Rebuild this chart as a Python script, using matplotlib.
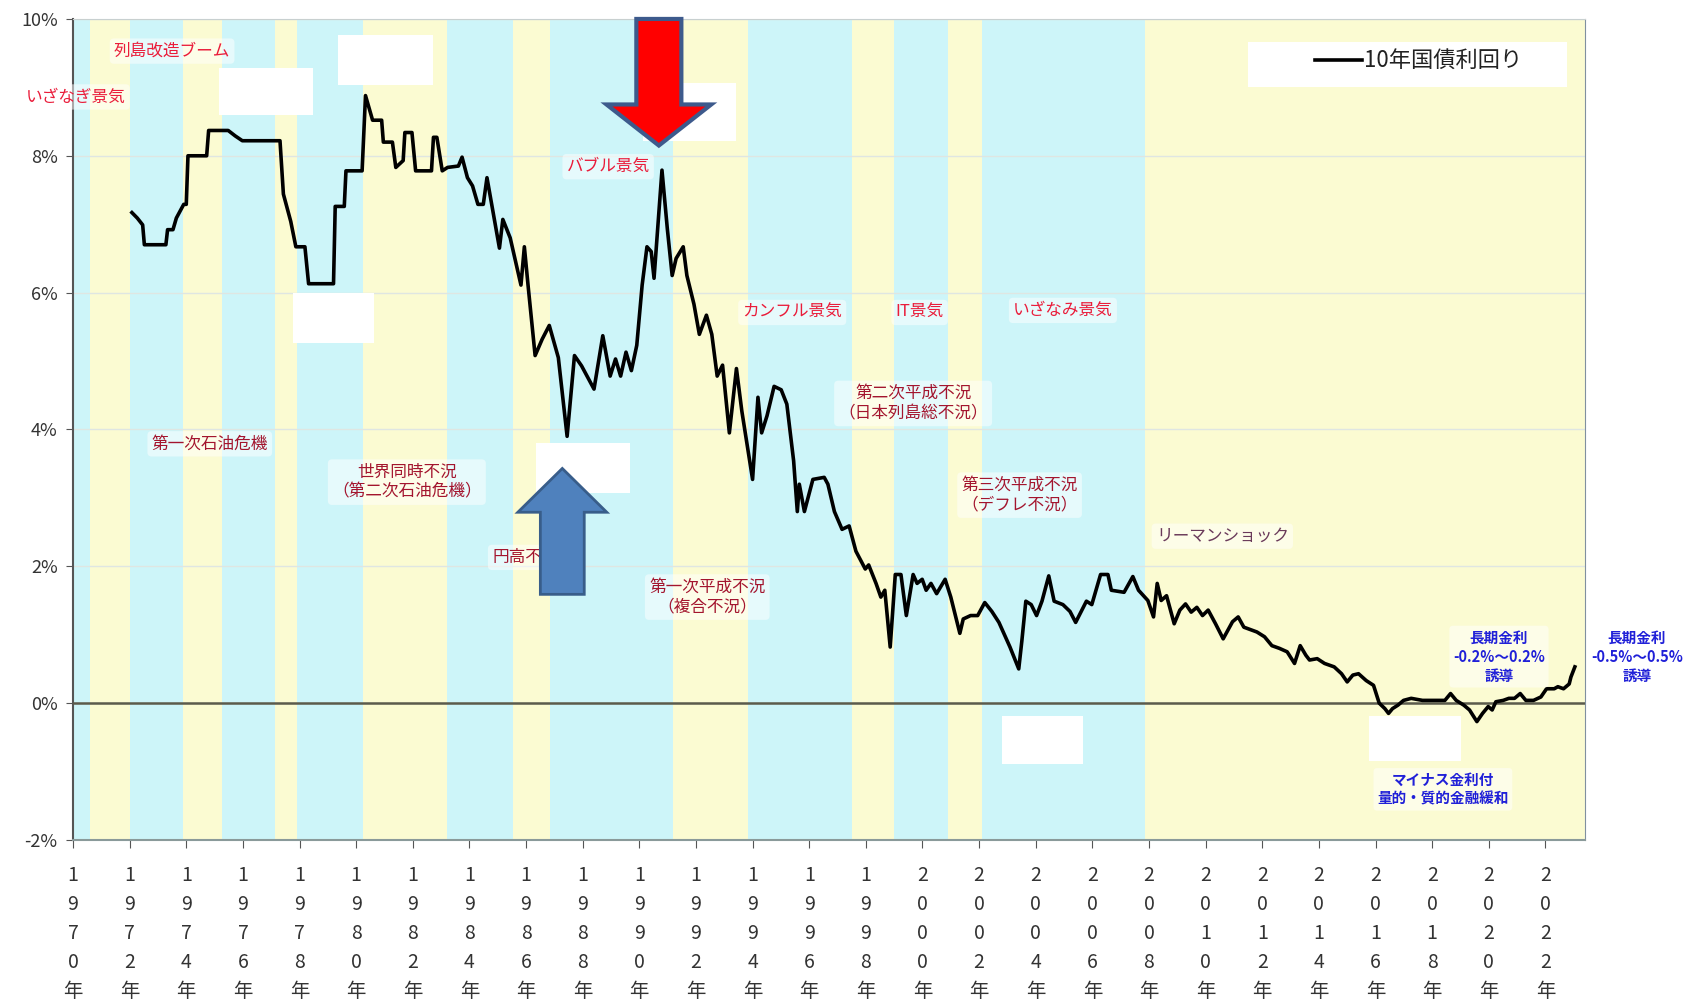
import matplotlib.pyplot as plt
from matplotlib.patches import Rectangle, FancyArrow

plt.rcParams['font.family'] = ['Noto Sans CJK JP', 'DejaVu Sans']

# 10-year JGB yield (%)
years = [
    1972.08, 1972.27, 1972.46, 1972.52, 1973.28, 1973.34, 1973.53, 1973.65, 1973.91, 1974.00,
    1974.06, 1974.72, 1974.79, 1975.48, 1975.73, 1975.98, 1977.31, 1977.43, 1977.69, 1977.87,
    1978.19, 1978.32, 1979.20, 1979.26, 1979.58, 1979.64, 1980.21, 1980.33, 1980.58, 1980.90,
    1980.96, 1981.28, 1981.40, 1981.66, 1981.72, 1981.97, 1982.10, 1982.66, 1982.73, 1982.85,
    1983.04, 1983.23, 1983.61, 1983.74, 1983.93, 1984.11, 1984.30, 1984.49, 1984.62, 1985.06,
    1985.18, 1985.44, 1985.82, 1985.94, 1986.07, 1986.32, 1986.57, 1986.82, 1987.14, 1987.45,
    1987.71, 1987.96, 1988.40, 1988.71, 1988.97, 1989.16, 1989.34, 1989.53, 1989.72, 1989.91,
    1990.10, 1990.27, 1990.42, 1990.52, 1990.80, 1990.99, 1991.16, 1991.30, 1991.55, 1991.68,
    1991.93, 1992.12, 1992.37, 1992.56, 1992.75, 1992.94, 1993.18, 1993.43, 1993.62, 1994.00,
    1994.19, 1994.32, 1994.51, 1994.76, 1995.01, 1995.21, 1995.45, 1995.58, 1995.65, 1995.83,
    1996.13, 1996.53, 1996.66, 1996.89, 1997.16, 1997.41, 1997.65, 1997.98, 1998.10, 1998.36,
    1998.53, 1998.67, 1998.86, 1999.04, 1999.24, 1999.43, 1999.67, 1999.81, 1999.99, 2000.13,
    2000.30, 2000.50, 2000.80, 2001.00, 2001.32, 2001.44, 2001.70, 2001.95, 2002.20, 2002.45,
    2002.70, 2003.09, 2003.40, 2003.51, 2003.65, 2003.84, 2004.03, 2004.22, 2004.46, 2004.65,
    2004.96, 2005.21, 2005.41, 2005.79, 2005.98, 2006.29, 2006.55, 2006.67, 2007.12, 2007.43,
    2007.63, 2007.96, 2008.16, 2008.29, 2008.43, 2008.62, 2008.89, 2009.09, 2009.29, 2009.49,
    2009.69, 2009.89, 2010.09, 2010.35, 2010.62, 2010.82, 2010.95, 2011.15, 2011.35, 2011.61,
    2011.81, 2012.08, 2012.34, 2012.61, 2012.88, 2013.14, 2013.34, 2013.54, 2013.67, 2013.94,
    2014.20, 2014.54, 2014.80, 2015.00, 2015.20, 2015.40, 2015.67, 2015.93, 2016.13, 2016.33,
    2016.46, 2016.60, 2016.79, 2016.99, 2017.26, 2017.66, 2018.06, 2018.45, 2018.65, 2018.85,
    2019.12, 2019.32, 2019.58, 2019.78, 2019.98, 2020.12, 2020.25, 2020.51, 2020.71, 2020.91,
    2021.11, 2021.31, 2021.58, 2021.84, 2022.04, 2022.31, 2022.44, 2022.64, 2022.84, 2022.90, 2023.04,
]
yields = [
    7.17, 7.09, 6.99, 6.70, 6.70, 6.92, 6.92, 7.09, 7.29, 7.29,
    8.00, 8.00, 8.37, 8.37, 8.29, 8.22, 8.22, 7.44, 7.04, 6.67,
    6.67, 6.13, 6.13, 7.26, 7.26, 7.78, 7.78, 8.88, 8.52, 8.52,
    8.20, 8.20, 7.83, 7.93, 8.34, 8.34, 7.78, 7.78, 8.27, 8.27,
    7.78, 7.83, 7.85, 7.98, 7.68, 7.56, 7.29, 7.29, 7.68, 6.65,
    7.07, 6.80, 6.11, 6.67, 6.11, 5.08, 5.32, 5.52, 5.05, 3.90,
    5.08, 4.93, 4.59, 5.37, 4.78, 5.03, 4.78, 5.13, 4.86, 5.23,
    6.11, 6.67, 6.60, 6.21, 7.79, 6.93, 6.25, 6.50, 6.67, 6.25,
    5.83, 5.39, 5.67, 5.39, 4.78, 4.94, 3.95, 4.89, 4.27, 3.27,
    4.47, 3.95, 4.20, 4.63, 4.58, 4.37, 3.54, 2.80, 3.20, 2.80,
    3.27, 3.30, 3.20, 2.80, 2.54, 2.59, 2.22, 1.96, 2.02, 1.75,
    1.55, 1.65, 0.82, 1.88, 1.88, 1.28, 1.88, 1.75, 1.81, 1.65,
    1.75, 1.60, 1.81, 1.55, 1.02, 1.23, 1.28, 1.28, 1.47, 1.34,
    1.18, 0.82, 0.50, 0.91, 1.49, 1.44, 1.28, 1.49, 1.86, 1.49,
    1.44, 1.34, 1.18, 1.49, 1.44, 1.88, 1.88, 1.65, 1.62, 1.85,
    1.65, 1.50, 1.26, 1.75, 1.50, 1.57, 1.16, 1.36, 1.45, 1.33,
    1.40, 1.28, 1.36, 1.16, 0.94, 1.09, 1.19, 1.26, 1.11, 1.07,
    1.04, 0.97, 0.84, 0.80, 0.75, 0.58, 0.84, 0.70, 0.63, 0.65,
    0.58, 0.53, 0.43, 0.31, 0.41, 0.43, 0.33, 0.26, 0.00, -0.08,
    -0.15, -0.08, -0.03, 0.04, 0.07, 0.04, 0.04, 0.04, 0.14, 0.04,
    -0.03, -0.10, -0.27, -0.15, -0.05, -0.10, 0.02, 0.04, 0.07, 0.07,
    0.14, 0.04, 0.04, 0.09, 0.21, 0.21, 0.24, 0.21, 0.28, 0.38, 0.53,
]

# expansion periods (blue bands); the rest is yellow
boom_start = [1970.0, 1972.0, 1975.25, 1977.9, 1983.2, 1986.85, 1993.85, 1999.0, 2002.1]
boom_end = [1970.6, 1973.9, 1977.15, 1980.25, 1985.55, 1991.2, 1997.5, 2000.9, 2007.85]

tick_years = list(range(1970, 2023, 2))
tick_labels = ['\n'.join(str(y)) + '\n年' for y in tick_years]
y_ticks = [-2, 0, 2, 4, 6, 8, 10]
y_labels = ['-2%', '0%', '2%', '4%', '6%', '8%', '10%']

blue = '#cdf5f9'
yellow = '#fbfbd2'
red = '#ea1c3a'
maroon = '#a3152e'
navy = '#2020d8'

fig = plt.figure(figsize=(16.9, 10.08), dpi=100)
ax = fig.add_axes([0.0432, 0.1667, 0.8947, 0.8145])
ax.set_facecolor(yellow)
for s, e in zip(boom_start, boom_end):
    ax.axvspan(s, e, color=blue, lw=0, zorder=0)

ax.set_axisbelow(True)
ax.yaxis.grid(True, color='#dfe6e2', lw=1)
ax.axhline(0, color='#5b5b4b', lw=1.8, zorder=3)
line, = ax.plot(years, yields, color='black', lw=2.6, zorder=4, label='10年国債利回り')

ax.set_xlim(1970, 2023.4)
ax.set_ylim(-2, 10)
ax.set_xticks(tick_years, tick_labels)
ax.set_yticks(y_ticks, y_labels)
ax.tick_params(axis='x', direction='out', length=6, pad=12, labelsize=14,
               colors='#555555', labelcolor='#333333')
ax.tick_params(axis='y', direction='out', length=5, pad=6, labelsize=13,
               colors='#555555', labelcolor='#333333')
for lbl in ax.get_xticklabels():
    lbl.set_linespacing(1.5)

ax.spines['left'].set_color('#555555')
ax.spines['left'].set_linewidth(1.5)
ax.spines['bottom'].set_color('#8a9a9a')
ax.spines['bottom'].set_linewidth(1.5)
ax.spines['right'].set_color('#8090a0')
ax.spines['top'].set_color('#c8d0d0')

# white cover boxes
covers = [
    (1975.14, 8.60, 3.35, 0.69), (1979.37, 9.04, 3.35, 0.73),
    (1990.13, 8.21, 3.29, 0.86), (1977.78, 5.27, 2.86, 0.72),
    (1986.36, 3.07, 3.32, 0.73), (2002.81, -0.89, 2.86, 0.70),
    (2015.76, -0.85, 3.25, 0.66), (2011.49, 9.01, 11.29, 0.66),
]
for x0, y0, w, h in covers:
    ax.add_patch(Rectangle((x0, y0), w, h, facecolor='white', edgecolor='none', zorder=5))

ax.legend(handles=[line], loc='center', bbox_to_anchor=(0.89, 0.949), frameon=False,
          fontsize=16, handlelength=2.1, handletextpad=0.1, labelcolor='#222222')

halo = dict(facecolor='white', alpha=0.5, edgecolor='none', boxstyle='round,pad=0.25')


def note(x, y, s, color, size=12, ha='center', weight='normal'):
    ax.text(x, y, s, color=color, fontsize=size, ha=ha, va='center', weight=weight,
            linespacing=1.25, bbox=halo, zorder=6)


note(1973.5, 9.53, '列島改造ブーム', red)
note(1970.1, 8.86, 'いざなぎ景気', red)
note(1988.9, 7.84, 'バブル景気', red)
note(1995.4, 5.71, 'カンフル景気', red)
note(1999.9, 5.71, 'IT景気', red)
note(2004.96, 5.74, 'いざなみ景気', red)
note(1974.83, 3.79, '第一次石油危機', maroon)
note(1981.79, 3.23, '世界同時不況\n（第二次石油危機）', maroon)
note(1984.8, 2.13, '円高不況', maroon, ha='left')
note(1992.4, 1.55, '第一次平成不況\n（複合不況）', maroon)
note(1999.67, 4.38, '第二次平成不況\n（日本列島総不況）', maroon)
note(2003.43, 3.04, '第三次平成不況\n（デフレ不況）', maroon)
note(2010.59, 2.44, 'リーマンショック', '#6a3a5a')
note(2020.36, 0.68, '長期金利\n-0.2%～0.2%\n誘導', navy, size=10.5, weight='bold')
note(2018.38, -1.26, 'マイナス金利付\n量的・質的金融緩和', navy, size=10.5, weight='bold')
note(2025.23, 0.68, '長期金利\n-0.5%～0.5%\n誘導', navy, size=10.5, weight='bold')

# arrows
ax.add_patch(FancyArrow(1990.69, 10.0, 0, -1.85, width=1.59, head_width=3.7, head_length=0.6,
                        length_includes_head=True, facecolor='#ff0000', edgecolor='#3d5a8c',
                        lw=3, zorder=7, clip_on=False))
ax.add_patch(FancyArrow(1987.28, 1.59, 0, 1.84, width=1.55, head_width=3.14, head_length=0.64,
                        length_includes_head=True, facecolor='#4f81bd', edgecolor='#385d8a',
                        lw=2, zorder=7))

fig.savefig('out.png', dpi=100)
